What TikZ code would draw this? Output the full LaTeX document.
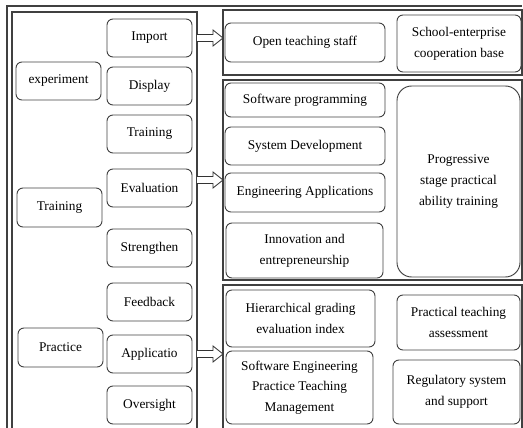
\documentclass[tikz,border=0pt]{standalone}
\usepackage{fontspec}
\setmainfont{Liberation Serif}
\usetikzlibrary{calc}

\tikzset{
    box/.style={draw=black!75, line width=0.7pt, rounded corners=4.5pt, align=center, inner sep=1pt, font=\fontsize{10}{15.5}\selectfont},
    frame/.style={draw=black!75, line width=0.8pt, inner sep=0pt, outer sep=0pt},
    boxsize/.style 2 args={minimum width=#1*0.75pt, minimum height=#2*0.75pt},
    fat/.style={draw=black!80, fill=white, line width=0.6pt, line join=miter},
}
\newcommand{\hollowarrow}[2]{\draw[fat] ($(#1)+(0,3.5)$) -- ($(#2)+(-10,3.5)$) -- ($(#2)+(-10,8)$) -- (#2) -- ($(#2)+(-10,-8)$) -- ($(#2)+(-10,-3.5)$) -- ($(#1)+(0,-3.5)$);}

\begin{document}
\begin{tikzpicture}[x=0.75pt, y=-0.75pt]
        \useasboundingbox (0,0) rectangle (523,427);
        \clip (0,0) rectangle (523,427);

        \draw[frame] (7,450) -- (7,6) -- (522,6);
        \node[frame, boxsize={185}{440}] (leftpanel) at (104.5,232) {};
        \node[frame, boxsize={299}{65}] (topframe) at (372.5,42.5) {};
        \node[frame, boxsize={299}{200}] (midframe) at (372.5,180) {};
        \node[frame, boxsize={299}{165}] (lowframe) at (372.5,367.5) {};

        \node[box, boxsize={85}{38}] (experiment) at (58.5,81) {experiment};
        \node[box, boxsize={85}{39}] (training) at (59.5,207.5) {Training};
        \node[box, boxsize={85}{39}] (practice) at (60.5,347.5) {Practice};

        \node[box, boxsize={85}{38}] (import) at (149.5,38) {Import};
        \node[box, boxsize={85}{38}] (display) at (149.5,86) {Display};
        \node[box, boxsize={85}{38}] (drill) at (149.5,134) {Training};
        \node[box, boxsize={85}{38}] (evaluation) at (149.5,188) {Evaluation};
        \node[box, boxsize={85}{38}] (strengthen) at (149.5,248) {Strengthen};
        \node[box, boxsize={85}{38}] (feedback) at (149.5,302) {Feedback};
        \node[box, boxsize={85}{38}] (applicatio) at (149.5,354) {Applicatio};
        \node[box, boxsize={85}{38}] (oversight) at (149.5,405) {Oversight};

        \node[box, boxsize={160}{39}] (staff) at (305,42.5) {Open teaching staff};
        \node[box, boxsize={124}{57}] (base) at (459,43.5) {School-enterprise\\cooperation base};

        \node[box, boxsize={160}{34}] (programming) at (305,100) {Software programming};
        \node[box, boxsize={160}{38}] (development) at (305,146) {System Development};
        \node[box, boxsize={160}{39}] (engineering) at (305,192.5) {Engineering Applications};
        \node[box, boxsize={157}{55}] (innovation) at (304.5,250.5) {Innovation and\\entrepreneurship};
        \node[box, rounded corners=11pt, boxsize={123}{191}] (progressive) at (458.5,181.5) {Progressive\\stage practical\\ability training};

        \node[box, boxsize={149}{57}] (grading) at (300.5,318.5) {Hierarchical grading\\evaluation index};
        \node[box, boxsize={147}{73}] (management) at (299.5,387.5) {Software Engineering\\Practice Teaching\\Management};
        \node[box, boxsize={123}{55}] (assessment) at (458.5,322.5) {Practical teaching\\assessment};
        \node[box, boxsize={127}{64}] (regulatory) at (456.5,392) {Regulatory system\\and support};

        \coordinate (out1) at (import.east -| leftpanel.east);
        \coordinate (in1) at (import.east -| topframe.west);
        \coordinate (out2) at ([yshift=6pt]evaluation.east -| leftpanel.east);
        \coordinate (in2) at ([yshift=6pt]evaluation.east -| midframe.west);
        \coordinate (out3) at (applicatio.east -| leftpanel.east);
        \coordinate (in3) at (applicatio.east -| lowframe.west);
        \hollowarrow{out1}{in1}
        \hollowarrow{out2}{in2}
        \hollowarrow{out3}{in3}
\end{tikzpicture}
\end{document}
